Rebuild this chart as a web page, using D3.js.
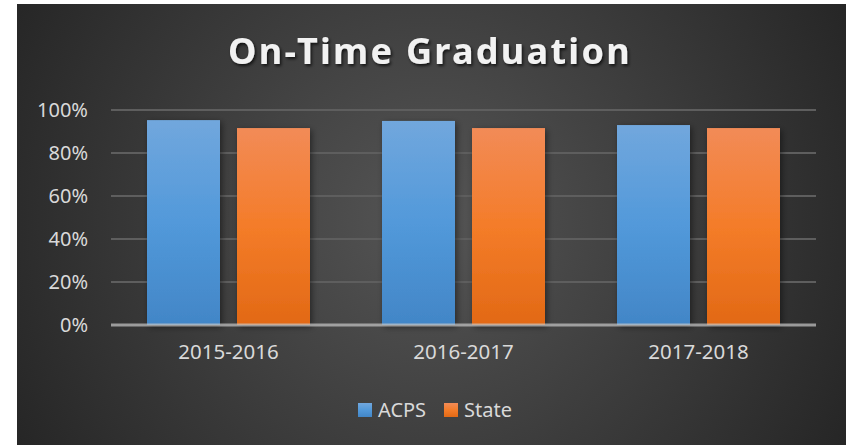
<!DOCTYPE html>
<html>
<head>
<meta charset="utf-8">
<script src="https://cdn.jsdelivr.net/npm/d3@7"></script>
<style>
  html, body { margin: 0; padding: 0; background: #ffffff; }
  svg { display: block; }
  text { font-family: "Noto Sans", "Open Sans", sans-serif; }
</style>
</head>
<body>
<div id="chart"></div>
<script>
// Data
var years = ['2015-2016', '2016-2017', '2017-2018'];
var series = ['ACPS', 'State'];
var acps = [0.953, 0.949, 0.930];
var state = [0.916, 0.916, 0.916];
var yTicks = [0, 0.2, 0.4, 0.6, 0.8, 1.0];

var W = 846, H = 445;

var svg = d3.select('#chart').append('svg')
    .attr('width', W)
    .attr('height', H);

var defs = svg.append('defs');

// background gradient
var bg = defs.append('radialGradient')
    .attr('id', 'bg')
    .attr('gradientUnits', 'userSpaceOnUse')
    .attr('cx', 430).attr('cy', 220).attr('r', 470);
bg.append('stop').attr('offset', '0%').attr('stop-color', '#555555');
bg.append('stop').attr('offset', '100%').attr('stop-color', '#262626');

// bar gradients
var gradColors = {
    ACPS: ['#71a7dd', '#5299da', '#4286c7'],
    State: ['#f28b57', '#f47c29', '#e26915']
};
series.forEach(function(s) {
    var g = defs.append('linearGradient')
        .attr('id', 'g-' + s)
        .attr('x1', 0).attr('y1', 0).attr('x2', 0).attr('y2', 1);
    g.append('stop').attr('offset', '0%').attr('stop-color', gradColors[s][0]);
    g.append('stop').attr('offset', '50%').attr('stop-color', gradColors[s][1]);
    g.append('stop').attr('offset', '100%').attr('stop-color', gradColors[s][2]);
});

var shadow = defs.append('filter').attr('id', 'shadow')
    .attr('x', '-20%').attr('y', '-20%').attr('width', '140%').attr('height', '140%');
shadow.append('feDropShadow')
    .attr('dx', 2).attr('dy', 2).attr('stdDeviation', 3)
    .attr('flood-color', '#000').attr('flood-opacity', 0.45);

var tshadow = defs.append('filter').attr('id', 'tshadow')
    .attr('x', '-10%').attr('y', '-30%').attr('width', '120%').attr('height', '160%');
tshadow.append('feDropShadow')
    .attr('dx', 1.5).attr('dy', 2).attr('stdDeviation', 1.5)
    .attr('flood-color', '#000').attr('flood-opacity', 0.7);

svg.append('rect')
    .attr('x', 17).attr('y', 4)
    .attr('width', W - 17).attr('height', H - 4)
    .attr('fill', 'url(#bg)');

// Title
svg.append('text')
    .attr('x', 430).attr('y', 64)
    .attr('text-anchor', 'middle')
    .attr('font-size', 36)
    .attr('font-weight', 'bold')
    .attr('letter-spacing', 2.3)
    .attr('fill', '#f2f2f2')
    .attr('filter', 'url(#tshadow)')
    .text('On-Time Graduation');

// Scales
var x0 = d3.scaleBand().domain(years).range([111, 816]);
var x1 = d3.scaleBand().domain(series).range([0, x0.bandwidth()])
    .paddingInner(17 / 90).paddingOuter(0.4);
var y = d3.scaleLinear().domain([0, 1]).range([325, 110]);

// Gridlines
svg.append('g')
    .selectAll('line')
    .data(yTicks.slice(1))
    .enter()
    .append('line')
    .attr('x1', 111).attr('x2', 816)
    .attr('y1', function(d) { return y(d); })
    .attr('y2', function(d) { return y(d); })
    .attr('stroke', '#5e5e5e')
    .attr('stroke-width', 2);

// Y axis labels
var yAxis = d3.axisLeft(y).tickValues(yTicks).tickFormat(d3.format('.0%')).tickSize(0).tickPadding(23);
var ya = svg.append('g').attr('transform', 'translate(111,0)').call(yAxis);
ya.select('.domain').remove();
ya.selectAll('text')
    .attr('font-size', 20)
    .attr('fill', '#d9d9d9')
    .attr('font-family', '"Noto Sans", sans-serif');

// Bars
var rows = years.map(function(yr, i) {
    return { year: yr, values: [{ s: 'ACPS', v: acps[i] }, { s: 'State', v: state[i] }] };
});

var groups = svg.selectAll('.grp')
    .data(rows)
    .enter()
    .append('g')
    .attr('class', 'grp')
    .attr('transform', function(d) { return 'translate(' + x0(d.year) + ',0)'; });

groups.selectAll('rect')
    .data(function(d) { return d.values; })
    .enter()
    .append('rect')
    .attr('x', function(d) { return x1(d.s); })
    .attr('y', function(d) { return y(d.v); })
    .attr('width', x1.bandwidth())
    .attr('height', function(d) { return y(0) - y(d.v); })
    .attr('fill', function(d) { return 'url(#g-' + d.s + ')'; })
    .attr('filter', 'url(#shadow)');

// X axis line
svg.append('line')
    .attr('x1', 111).attr('x2', 816)
    .attr('y1', y(0)).attr('y2', y(0))
    .attr('stroke', '#c8c8c8')
    .attr('stroke-opacity', 0.7)
    .attr('stroke-width', 3);

// X axis labels
var xAxis = d3.axisBottom(x0).tickSize(0).tickPadding(19);
var xa = svg.append('g').attr('transform', 'translate(0,' + y(0) + ')').call(xAxis);
xa.select('.domain').remove();
xa.selectAll('text')
    .attr('font-size', 20.5)
    .attr('fill', '#d9d9d9')
    .attr('font-family', '"Noto Sans", sans-serif');

// Legend
var legend = svg.append('g').attr('transform', 'translate(358,403)');
var lx = [0, 86];
series.forEach(function(s, i) {
    var g = legend.append('g').attr('transform', 'translate(' + lx[i] + ',0)');
    g.append('rect')
        .attr('width', 14).attr('height', 14)
        .attr('fill', 'url(#g-' + s + ')');
    g.append('text')
        .attr('x', 20).attr('y', 14)
        .attr('font-size', 20)
        .attr('fill', '#d9d9d9')
        .text(s);
});
</script>
</body>
</html>
